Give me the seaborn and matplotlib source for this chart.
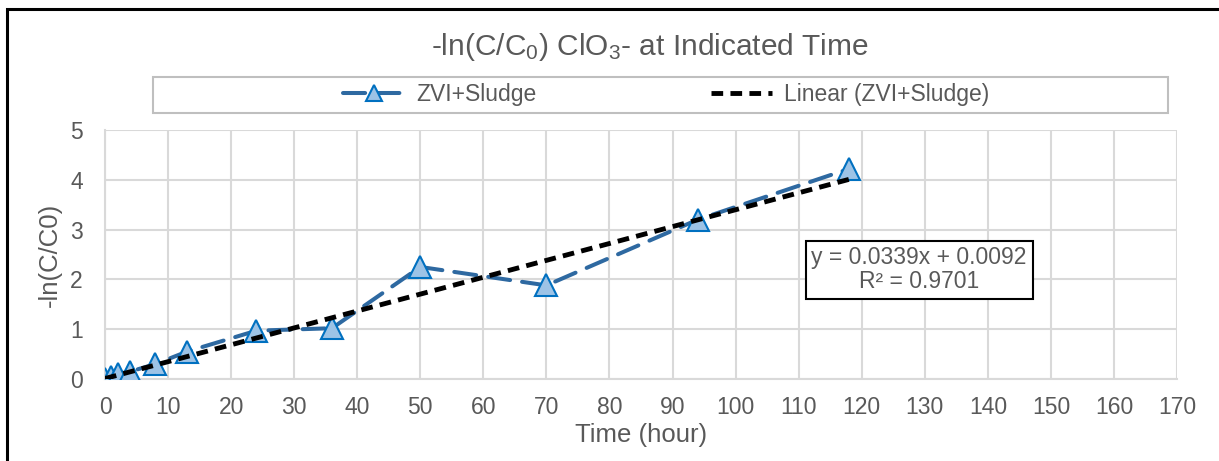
import numpy as np
import pandas as pd
import matplotlib
matplotlib.use("Agg")
import matplotlib.pyplot as plt
import seaborn as sns
from matplotlib.ticker import MultipleLocator
from matplotlib.patches import Rectangle

# data
time_h = [0, 1, 2, 4, 8, 13, 24, 36, 50, 70, 94, 118]
neg_ln = [0.0, 0.05, 0.1, 0.15, 0.3, 0.55, 0.97, 1.02, 2.25, 1.88, 3.2, 4.22]
slope = 0.0339
intercept = 0.0092
r2 = 0.9701
series_name = "ZVI+Sludge"

df = pd.DataFrame({"Time": time_h, "val": neg_ln})
fit_x = [0, 118]
fit_df = pd.DataFrame({"Time": fit_x, "val": [slope * x + intercept for x in fit_x]})

sns.set_style("white")
plt.rcParams["font.family"] = ["Liberation Sans", "DejaVu Sans"]
plt.rcParams["mathtext.default"] = "regular"
text_col = "#595959"
grid_col = "#D9D9D9"

fig = plt.figure(figsize=(12.19, 4.61), dpi=100)
ax = fig.add_axes([105 / 1219, 1 - 379 / 461, (1177 - 105) / 1219, (379 - 130) / 461])

sns.lineplot(data=df, x="Time", y="val", ax=ax, color="#2E69A1", lw=2.9,
             marker="^", markersize=16, markerfacecolor="#9DC3E6",
             markeredgecolor="#0070C0", markeredgewidth=1.5,
             dashes=False, label=series_name, zorder=3)
line = ax.lines[-1]
line.set_dashes((5.5, 3))
line.set_dash_capstyle("round")

sns.lineplot(data=fit_df, x="Time", y="val", ax=ax, color="black", lw=3.5,
             label="Linear (" + series_name + ")", zorder=4)
ax.lines[-1].set_dashes((2.4, 1.5))

ax.set_xlim(0, 170)
ax.set_ylim(0, 5)
ax.xaxis.set_major_locator(MultipleLocator(10))
ax.xaxis.set_minor_locator(MultipleLocator(2))
ax.yaxis.set_major_locator(MultipleLocator(1))
ax.yaxis.set_minor_locator(MultipleLocator(0.2))
ax.grid(True, which="major", color=grid_col, lw=1.5)
ax.set_axisbelow(True)
for s in ["top", "right"]:
    ax.spines[s].set_visible(False)
for s in ["left", "bottom"]:
    ax.spines[s].set_color(grid_col)
    ax.spines[s].set_linewidth(1.5)
ax.tick_params(which="major", length=0, labelsize=16.5, labelcolor=text_col)
ax.tick_params(axis="x", which="major", pad=12)
ax.tick_params(axis="y", which="major", pad=16)
ax.tick_params(which="minor", direction="in", length=4, color="#BFBFBF", width=1)

ax.set_xlabel("Time (hour)", fontsize=18.5, color=text_col, labelpad=3)
ax.set_ylabel("-ln(C/C0)", fontsize=18.5, color=text_col, labelpad=6)

# equation box
ax.text(129.1, 2.19, "y = %.4fx + %.4f\nR² = %.4f" % (slope, intercept, r2),
        ha="center", va="center", fontsize=16.5, color=text_col, linespacing=1.05,
        bbox=dict(boxstyle="square,pad=0.25", fc="white", ec="black", lw=1.5))

# legend in a wide grey box under the title
handles, labels = ax.get_legend_handles_labels()
ax.get_legend().remove()
fig.patches.append(Rectangle((153 / 1219, 1 - 113 / 461), (1168 - 153) / 1219, 36 / 461,
                             transform=fig.transFigure, fill=False, ec="#BFBFBF", lw=1.5))
leg = fig.legend(handles, labels, loc="center", bbox_to_anchor=(666 / 1219, 1 - 95 / 461),
                 ncol=2, frameon=False, fontsize=16.5, labelcolor=text_col,
                 handlelength=2.7, handletextpad=0.5, columnspacing=7.6)
for h in leg.get_lines():
    h.set_markersize(11)

fig.text(650 / 1219, 1 - 47 / 461, "-ln(C/C$_0$) ClO$_3$- at Indicated Time",
         ha="center", va="center", fontsize=21.5, color=text_col)

# outer chart frame (cut off at right/bottom)
fig.patches.append(Rectangle((7 / 1219, -0.1), 1.2, 1 - 9 / 461 + 0.1,
                             transform=fig.transFigure, fill=False, ec="black", lw=2.2))

fig.savefig("out.png", dpi=100)
